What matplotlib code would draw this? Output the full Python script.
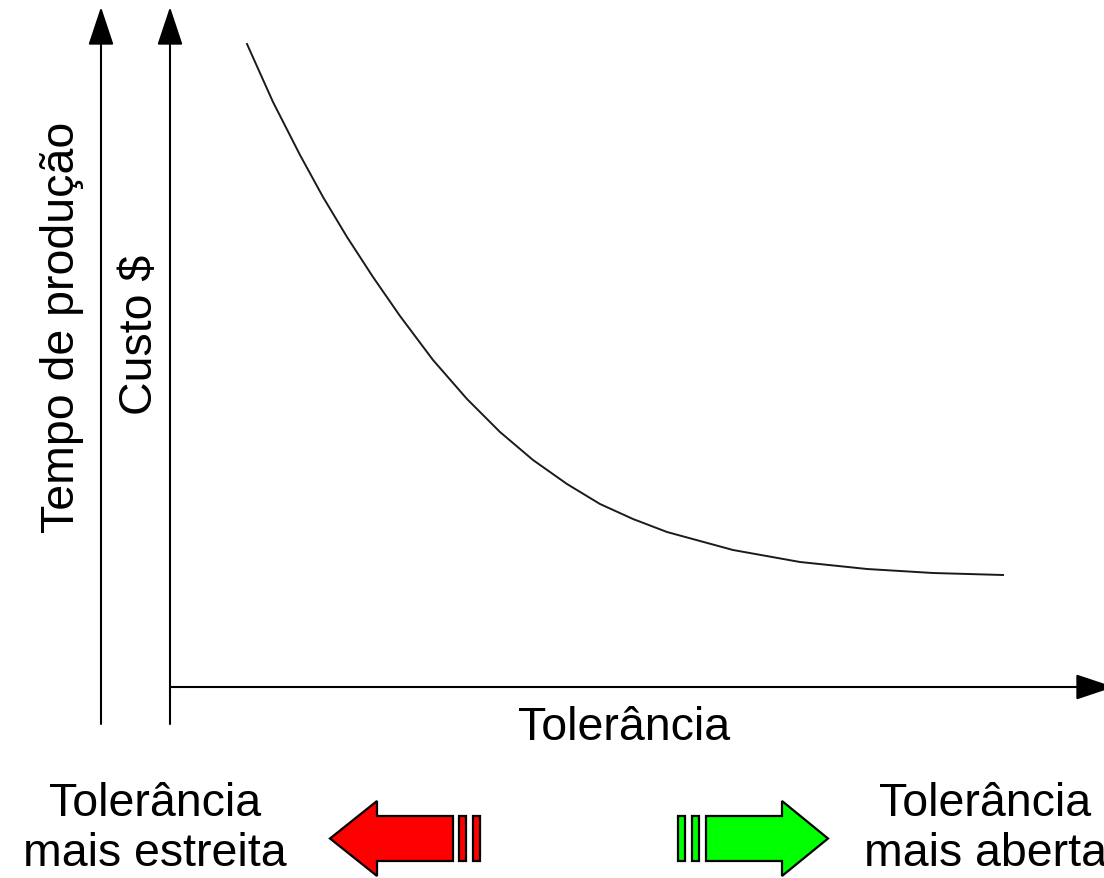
import numpy as np
import matplotlib
matplotlib.use('Agg')
import matplotlib.pyplot as plt
from matplotlib.patches import FancyArrow, Rectangle

plt.rcParams['font.family'] = ['Liberation Sans', 'DejaVu Sans']

# curve (arbitrary units: tolerance vs cost)
tolerancia = [0.77, 1.03, 1.30, 1.53, 1.77, 2.03, 2.30, 2.63, 2.97, 3.30,
              3.63, 3.97, 4.30, 4.63, 4.97, 5.63, 6.30, 6.97, 7.63, 8.33]
custo = [6.43, 5.85, 5.32, 4.90, 4.50, 4.10, 3.71, 3.27, 2.88, 2.55,
         2.27, 2.03, 1.83, 1.68, 1.55, 1.37, 1.25, 1.18, 1.14, 1.12]

label_x = 'Tolerância'
label_y1 = 'Custo $'
label_y2 = 'Tempo de produção'
label_left = 'Tolerância\nmais estreita'
label_right = 'Tolerância\nmais aberta'

W, H = 1104, 879
fig = plt.figure(figsize=(W / 100, H / 100), dpi=100)

# overlay axes in pixel units for the drawing decorations
deco = fig.add_axes([0, 0, 1, 1])
deco.set_xlim(0, W)
deco.set_ylim(H, 0)
deco.axis('off')

# data axes whose origin sits on the drawn axes
ox, oy = 170, 688
ax = fig.add_axes([ox / W, (H - oy) / H, (W - ox) / W, oy / H])
ax.set_xlim(0, (W - ox) / 100)
ax.set_ylim(0, oy / 100)
ax.axis('off')
ax.plot(tolerancia, custo, color='#1a1a1a', lw=1.4, solid_joinstyle='round')

arrow = dict(arrowstyle='-|>,head_length=1.2,head_width=0.4', mutation_scale=20,
             lw=1.5, color='black', shrinkA=0, shrinkB=0)
deco.annotate('', xy=(101, 8), xytext=(101, 725), arrowprops=arrow)
deco.annotate('', xy=(170, 8), xytext=(170, 725), arrowprops=arrow)
deco.annotate('', xy=(1114, 688), xytext=(170, 688), arrowprops=arrow, annotation_clip=False)

fs = 33.5
deco.text(624, 728, label_x, fontsize=fs, ha='center', va='center')
deco.text(140, 335, label_y1, fontsize=fs, ha='center', va='center', rotation=90)
deco.text(62, 327, label_y2, fontsize=fs, ha='center', va='center', rotation=90)
deco.text(155, 829, label_left, fontsize=fs, ha='center', va='center', linespacing=1.15)
deco.text(985, 829, label_right, fontsize=fs, ha='center', va='center', linespacing=1.15)

# red arrow (narrower tolerance) and green arrow (wider tolerance)
deco.add_patch(FancyArrow(453, 839.5, -123, 0, width=45, head_width=75, head_length=47,
                          length_includes_head=True, fc='#ff0000', ec='black', lw=1.6))
for x0 in [459, 473]:
    deco.add_patch(Rectangle((x0, 817), 7, 45, fc='#ff0000', ec='black', lw=1.6))

deco.add_patch(FancyArrow(706, 839.5, 122, 0, width=45, head_width=75, head_length=46,
                          length_includes_head=True, fc='#00ff00', ec='black', lw=1.6))
for x0 in [678, 692]:
    deco.add_patch(Rectangle((x0, 817), 7, 45, fc='#00ff00', ec='black', lw=1.6))

fig.savefig('out.png', dpi=100)
